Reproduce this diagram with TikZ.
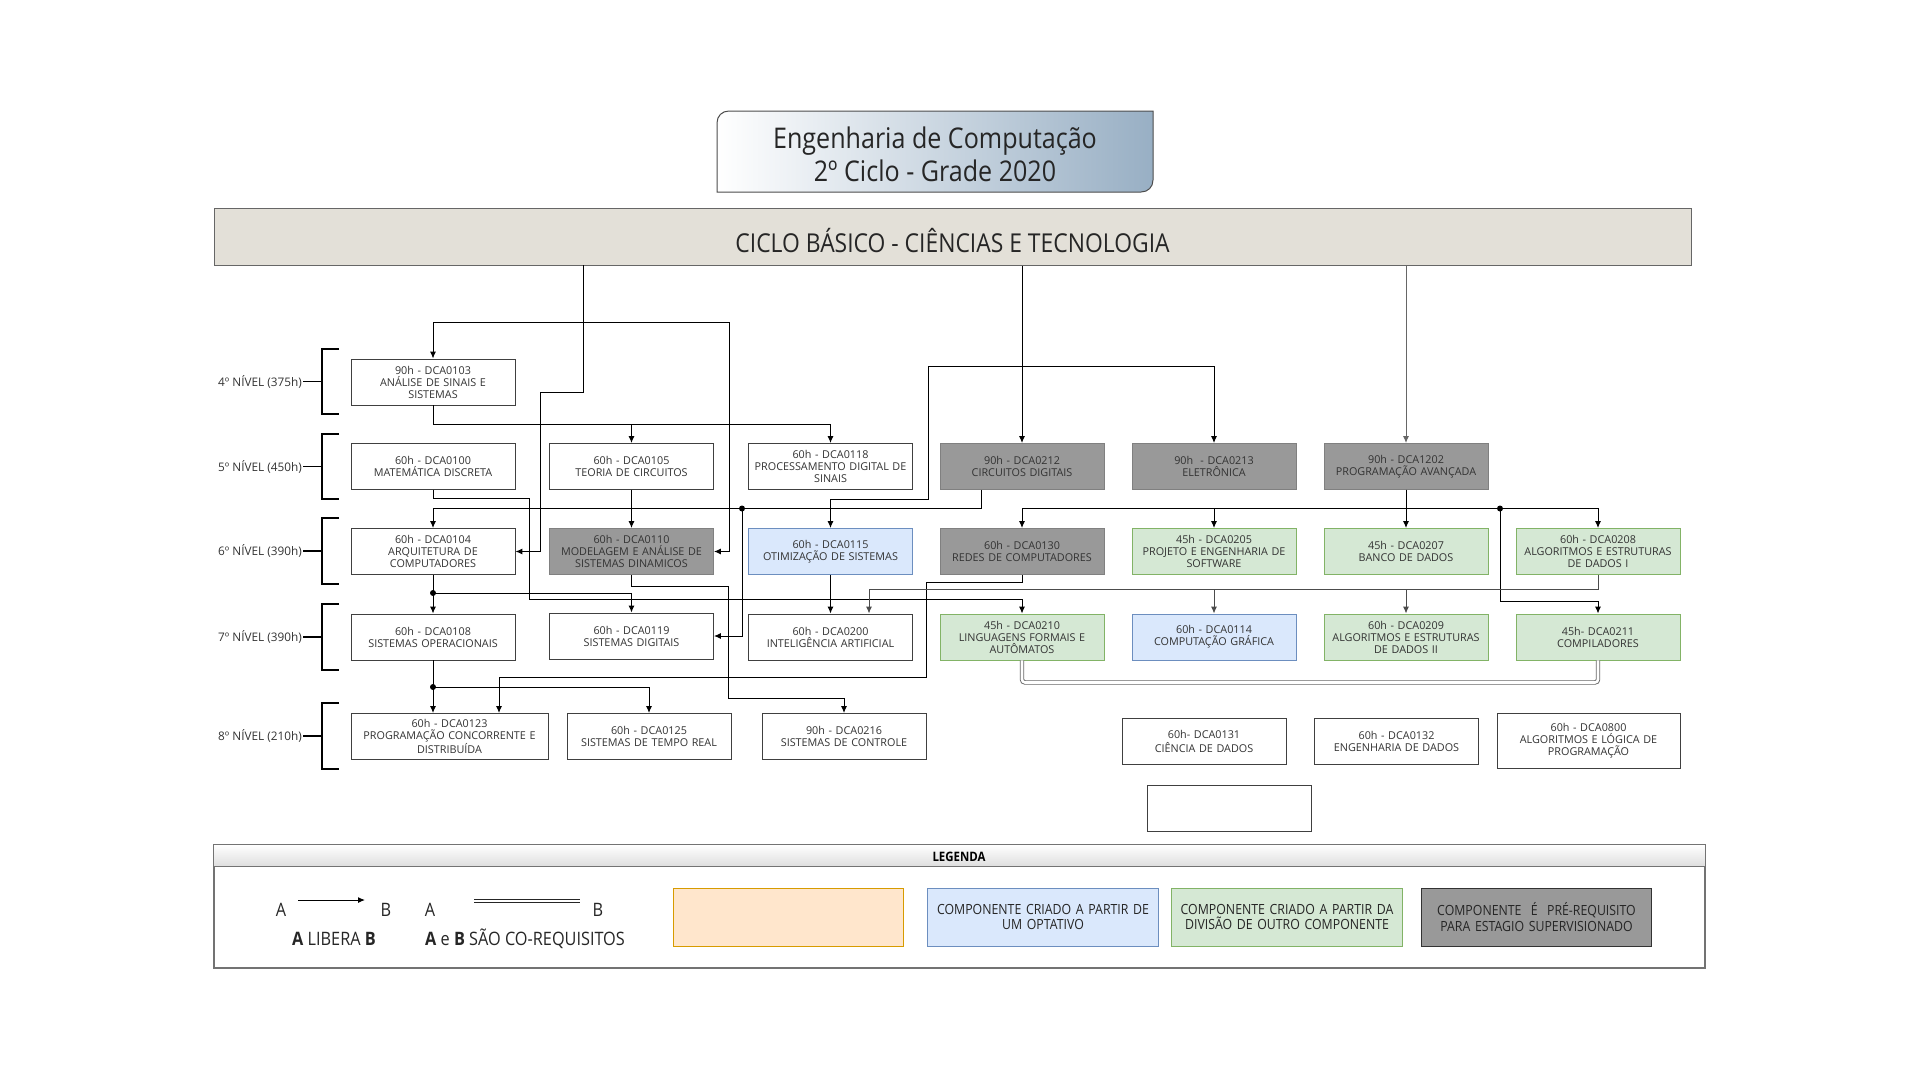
\documentclass[tikz,border=0pt]{standalone}
\usepackage{fontspec}
\setmainfont{Open Sans}
\newfontfamily\condfont[FakeStretch=0.88]{Open Sans}
\usetikzlibrary{positioning, arrows.meta, shapes}

\definecolor{titleblue}{HTML}{98AFC4}
\definecolor{bandfill}{HTML}{E3E0D8}
\definecolor{prefill}{HTML}{999999}
\definecolor{optfill}{HTML}{DAE8FC}
\definecolor{optline}{HTML}{6C8EBF}
\definecolor{divfill}{HTML}{D5E8D4}
\definecolor{divline}{HTML}{82B366}
\definecolor{newfill}{HTML}{FFE6CC}
\definecolor{newline}{HTML}{D79B00}
\definecolor{textgray}{HTML}{333333}

\begin{document}
\begin{tikzpicture}[
        x=1pt, y=-1pt,
        box/.style={draw=black!75, fill=white, line width=0.9pt, text=textgray, minimum width=164pt, minimum height=46pt, text width=160pt, align=center, inner sep=2pt, font=\fontsize{10.8}{12}\selectfont},
        prebox/.style={box, fill=prefill, draw=black!50},
        optbox/.style={box, fill=optfill, draw=optline},
        divbox/.style={box, fill=divfill, draw=divline},
        nivel/.style={anchor=east, inner sep=1pt, text=textgray, font=\fontsize{11.8}{13}\selectfont},
        bracket/.style={draw, line width=2pt},
        arrow/.style={draw, line width=1pt, -{Latex[length=7pt, width=6pt]}},
        coreq/.style={draw=black!60, double, double distance=2.6pt, line width=0.9pt, rounded corners=3pt},
        junction/.style={circle, fill, inner sep=0pt, minimum size=6pt},
        legtxt/.style={inner sep=1pt, text=black!85, font=\condfont\fontsize{18.5}{21}\selectfont},
        legbox/.style={draw, line width=0.9pt, minimum width=230pt, minimum height=58pt, text width=224pt, align=center, text=black!85, font=\condfont\fontsize{14}{15.5}\selectfont}
    ]
    \useasboundingbox (0,0) rectangle (1920,1080);

    % Titulo
    \shadedraw[left color=white, right color=titleblue, draw=black!70, line width=1pt]
        (717,192) -- (717,123) .. controls (717,116) and (722,111) .. (729,111)
        -- (1153,111) -- (1153,180) .. controls (1153,187) and (1148,192) .. (1141,192) -- cycle;
    \node (titulo) at (935,154) [align=center, text=black!85, font=\condfont\fontsize{28.5}{33}\selectfont] {Engenharia de Computação\\2º Ciclo - Grade 2020};

    \node (ciclo) [draw=black!60, fill=bandfill, line width=1pt, minimum width=1477pt, minimum height=57pt, font=\condfont\fontsize{26}{30}\selectfont, text=black!85] at (952.5,236.5) {\raisebox{-16pt}[0pt][0pt]{CICLO BÁSICO - CIÊNCIAS E TECNOLOGIA}};

    % Niveis
    \foreach \nv/\ch/\ya/\yb in {4/375/349/414, 5/450/434/499, 6/390/518/584, 7/390/604/670, 8/210/703/769} {
        \node (n\nv) [nivel] at (303,{(\ya+\yb)/2}) {\nv º NÍVEL (\ch h)};
        \draw[bracket] (339,\ya) -- (322,\ya) -- (322,\yb) -- (339,\yb);
        \draw[line width=1.5pt] (n\nv.east) -- (322,{(\ya+\yb)/2});
    }

    % 4o nivel
    \node (a0103) [box] at (433,382) {90h - DCA0103\\ANÁLISE DE SINAIS E\\SISTEMAS};
    % 5o nivel
    \node (a0100) [box] at (433,466.5) {60h - DCA0100\\MATEMÁTICA DISCRETA};
    \node (a0105) [box] at (631.5,466.5) {60h - DCA0105\\TEORIA DE CIRCUITOS};
    \node (a0118) [box] at (830.5,466.5) {60h - DCA0118\\PROCESSAMENTO DIGITAL DE\\SINAIS};
    \node (a0212) [prebox] at (1022,466.5) {90h - DCA0212\\CIRCUITOS DIGITAIS};
    \node (a0213) [prebox] at (1214,466.5) {90h~ - DCA0213\\ELETRÔNICA};
    \node (a1202) [prebox] at (1406,466.5) {90h - DCA1202\\PROGRAMAÇÃO AVANÇADA};
    % 6o nivel
    \node (a0104) [box] at (433,551.5) {60h - DCA0104\\ARQUITETURA DE\\COMPUTADORES};
    \node (a0110) [prebox] at (631.5,551.5) {60h - DCA0110\\MODELAGEM E ANÁLISE DE\\SISTEMAS DINAMICOS};
    \node (a0115) [optbox] at (830.5,551.5) {60h - DCA0115\\OTIMIZAÇÃO DE SISTEMAS};
    \node (a0130) [prebox] at (1022,551.5) {60h - DCA0130\\REDES DE COMPUTADORES};
    \node (a0205) [divbox] at (1214,551.5) {45h - DCA0205\\PROJETO E ENGENHARIA DE\\SOFTWARE};
    \node (a0207) [divbox] at (1406,551.5) {45h - DCA0207\\BANCO DE DADOS};
    \node (a0208) [divbox] at (1598,551.5) {60h - DCA0208\\ALGORITMOS E ESTRUTURAS\\DE DADOS I};
    % 7o nivel
    \node (a0108) [box] at (433,637) {60h - DCA0108\\SISTEMAS OPERACIONAIS};
    \node (a0119) [box] at (631.5,636) {60h - DCA0119\\SISTEMAS DIGITAIS};
    \node (a0200) [box] at (830.5,637) {60h - DCA0200\\INTELIGÊNCIA ARTIFICIAL};
    \node (a0210) [divbox] at (1022,637) {45h - DCA0210\\LINGUAGENS FORMAIS E\\AUTÔMATOS};
    \node (a0114) [optbox] at (1214,637) {60h - DCA0114\\COMPUTAÇÃO GRÁFICA};
    \node (a0209) [divbox] at (1406,637) {60h - DCA0209\\ALGORITMOS E ESTRUTURAS\\DE DADOS II};
    \node (a0211) [divbox] at (1598,637) {45h- DCA0211\\COMPILADORES};
    % 8o nivel
    \node (a0123) [box, minimum width=197pt, text width=192pt] at (449.5,736.5) {60h - DCA0123\\PROGRAMAÇÃO CONCORRENTE E\\DISTRIBUÍDA};
    \node (a0125) [box] at (649,736.5) {60h - DCA0125\\SISTEMAS DE TEMPO REAL};
    \node (a0216) [box] at (844,736.5) {90h - DCA0216\\SISTEMAS DE CONTROLE};
    \node (a0131) [box, font=\fontsize{10.8}{14}\selectfont] at (1204,741) {60h- DCA0131\\CIÊNCIA DE DADOS};
    \node (a0132) [box] at (1396.5,741) {60h - DCA0132\\ENGENHARIA DE DADOS};
    \node (a0800) [box, minimum width=183pt, text width=178pt, minimum height=55pt] at (1588.5,740.5) {60h - DCA0800\\ALGORITMOS E LÓGICA DE\\PROGRAMAÇÃO};
    \node (vazio) [box] at (1229,808.5) {};

    % Pontos de ligacao
    \coordinate (b1) at (583,265);
    \coordinate (b2) at (ciclo.south -| a0212.north);
    \coordinate (b3) at (ciclo.south -| a1202.north);
    \coordinate (j1) at (583,322);
    \coordinate (j2) at (1022,366);
    \coordinate (d1) at (742,508.5);
    \coordinate (d2) at (1500,508.5);
    \coordinate (d3) at (433,593);
    \coordinate (d4) at (433,687);

    % Ciclo basico
    \draw[arrow] (b1) |- (540,392) |- (a0104.east);
    \draw[arrow] (j1) -| (a0103.north);
    \draw[arrow] (j1) -| (729,551.5) -- (a0110.east);
    \draw[arrow] (b2) -- (a0212.north);
    \draw[arrow] (j2) -| (a0213.north);
    \draw[arrow] (j2) -| (928,499) -| (a0115.north);
    \draw[arrow, draw=black!60] (b3) -- (a1202.north);

    % 4o e 5o nivel
    \draw[arrow] (a0103.south) -- ++(0,19) -| (a0105.north);
    \draw[arrow] (a0103.south) -- ++(0,19) -| (a0118.north);
    \draw[arrow] (a0100.south) -- ++(0,9) -| (529,599) -| (a0210.north);
    \draw[arrow] (a0105.south) -- (a0110.north);
    \draw[arrow] ([xshift=-41pt]a0212.south) -- ++(0,19) -| (a0104.north);
    \draw[arrow] (d1) |- (a0119.east);
    \draw[arrow] (a1202.south) -- (a0207.north);
    \draw[arrow] (a1202.south) -- ++(0,19) -| (a0130.north);
    \draw[arrow] (a1202.south) -- ++(0,19) -| (a0205.north);
    \draw[arrow] (a1202.south) -- ++(0,19) -| (a0208.north);
    \draw[arrow] (d2) -- ++(0,93) -| (a0211.north);

    % 6o nivel
    \draw[arrow] (a0104.south) -- (a0108.north);
    \draw[arrow] (d3) -| (a0119.north);
    \draw[arrow] (a0110.south) -- ++(0,12) -| (728,698) -| (a0216.north);
    \draw[arrow] (a0115.south) -- (a0200.north);
    \draw[arrow] (a0130.south) -- ++(0,8) -| (926,677) -| ([xshift=49.5pt]a0123.north);
    \draw[arrow, draw=black!70] (a0208.south) -- ++(0,15) -| ([xshift=38.5pt]a0200.north);
    \draw[arrow, draw=black!70] (a0208.south) -- ++(0,15) -| (a0114.north);
    \draw[arrow, draw=black!70] (a0208.south) -- ++(0,15) -| (a0209.north);

    % 7o nivel
    \draw[arrow] (a0108.south) -- ([xshift=-16.5pt]a0123.north);
    \draw[arrow] (d4) -| (a0125.north);
    \draw[coreq] (a0210.south) -- ++(0,22) -| (a0211.south);

    \foreach \p in {d1, d2, d3, d4}
        \node[junction] at (\p) {};

    % Legenda
    \node (legenda) [draw=black!55, line width=1.2pt, minimum width=1491pt, minimum height=123pt] at (959.5,906.5) {};
    \shadedraw[top color=white, bottom color=black!13, draw=black!55, line width=1pt] (legenda.north west) rectangle ([yshift=-22pt]legenda.north east);
    \node (legtit) at (959,857) [font=\condfont\bfseries\fontsize{13}{15}\selectfont] {LEGENDA};

    \node (la1) [legtxt] at (281,910) {A};
    \node (lb1) [legtxt] at (386,910) {B};
    \node (la2) [legtxt] at (430,910) {A};
    \node (lb2) [legtxt] at (598,910) {B};
    \coordinate (l1s) at (298,900);
    \coordinate (l1e) at (365,900);
    \coordinate (l2s) at (474,901);
    \coordinate (l2e) at (580,901);
    \draw[arrow] (l1s) -- (l1e);
    \draw[coreq, draw=black!85] (l2s) -- (l2e);
    \node (libera) [legtxt] at (334,939) {\textbf{A} LIBERA \textbf{B}};
    \node (correq) [legtxt, anchor=west] at (424,939) {\textbf{A} e \textbf{B} SÃO CO-REQUISITOS};

    \node (lnovo) [legbox, fill=newfill, draw=newline] at (788.5,917) {};
    \node (lopt) [legbox, fill=optfill, draw=optline] at (1043,917) {COMPONENTE CRIADO A PARTIR DE\\UM OPTATIVO};
    \node (ldiv) [legbox, fill=divfill, draw=divline] at (1287,917) {COMPONENTE CRIADO A PARTIR DA\\DIVISÃO DE OUTRO COMPONENTE};
    \node (lpre) [legbox, fill=prefill, draw=black!80] at (1536.5,917) {COMPONENTE~ É~ PRÉ-REQUISITO\\PARA ESTAGIO SUPERVISIONADO};

\end{tikzpicture}
\end{document}
